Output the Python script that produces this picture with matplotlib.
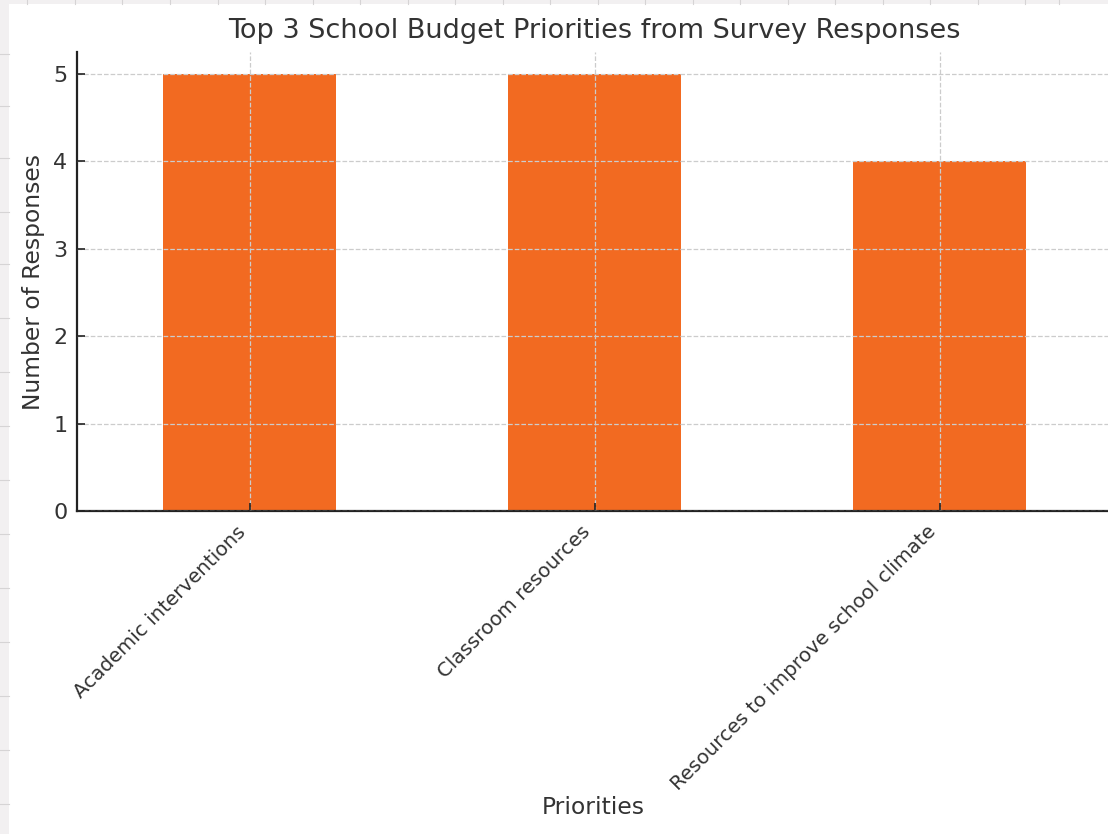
import matplotlib
matplotlib.use("Agg")
import matplotlib.pyplot as plt
from matplotlib.patches import Rectangle
from matplotlib.lines import Line2D

categories = ["Academic interventions", "Classroom resources", "Resources to improve school climate"]
responses = [5, 5, 4]

W, H = 1108, 834
fig = plt.figure(figsize=(W / 100, H / 100), dpi=100)
fig.patch.set_facecolor("#f2f0f1")
# white chart area (screenshot frame)
fig.add_artist(Rectangle((9 / W, 0), 1, 1 - 4 / H, transform=fig.transFigure,
                         facecolor="white", edgecolor="none", zorder=0))
# faint spreadsheet lines in the margin strips
for y in [54, 106, 158, 212, 264, 318, 372, 426, 480, 534, 588, 642, 696, 750, 804]:
    fig.add_artist(Line2D([0, 9 / W], [1 - y / H, 1 - y / H], transform=fig.transFigure,
                          color="#d6d4d5", lw=0.8))
for x in [27, 75, 122, 170, 218, 265, 313, 360, 408, 455, 503, 550, 598, 645, 693, 740, 788, 835, 883, 930, 978, 1025, 1059]:
    fig.add_artist(Line2D([x / W, x / W], [1 - 4 / H, 1], transform=fig.transFigure,
                          color="#d6d4d5", lw=0.8))

left, right, top, bottom = 77, 1112, 52, 511
ax = fig.add_axes([left / W, 1 - bottom / H, (right - left) / W, (bottom - top) / H])
ax.set_facecolor("none")
x = list(range(len(categories)))
ax.bar(x, responses, width=0.5, color="#f26a21", zorder=2)
ax.set_xlim(-0.5, len(categories) - 0.5)
ax.set_ylim(0, 5.25)
ax.set_xticks(x)
ax.set_xticklabels(categories, rotation=45, ha="right", fontsize=14.3)
ax.set_yticks([0, 1, 2, 3, 4, 5])
ax.grid(True, linestyle="--", color="#cccccc", linewidth=0.9, zorder=3)
ax.set_axisbelow(False)
for s in ["top", "right"]:
    ax.spines[s].set_visible(False)
for s in ["left", "bottom"]:
    ax.spines[s].set_color("#222222")
    ax.spines[s].set_linewidth(1.6)
ax.tick_params(direction="in", length=6, width=1.2, colors="#222222",
               labelcolor="#333333", pad=6)
ax.tick_params(axis="y", labelsize=16, pad=7)
ax.tick_params(axis="x", pad=8)
ax.set_title("Top 3 School Budget Priorities from Survey Responses", fontsize=19.5,
             color="#333333", pad=10)
ax.set_xlabel("Priorities", fontsize=16.8, color="#333333")
ax.xaxis.label.set_va("center")
ax.xaxis.set_label_coords(0.4986, -0.647)
ax.set_ylabel("Number of Responses", fontsize=16.8, color="#333333")
ax.yaxis.set_label_coords(-0.031, 0.5)

fig.savefig("out.png", dpi=100, facecolor=fig.get_facecolor())
